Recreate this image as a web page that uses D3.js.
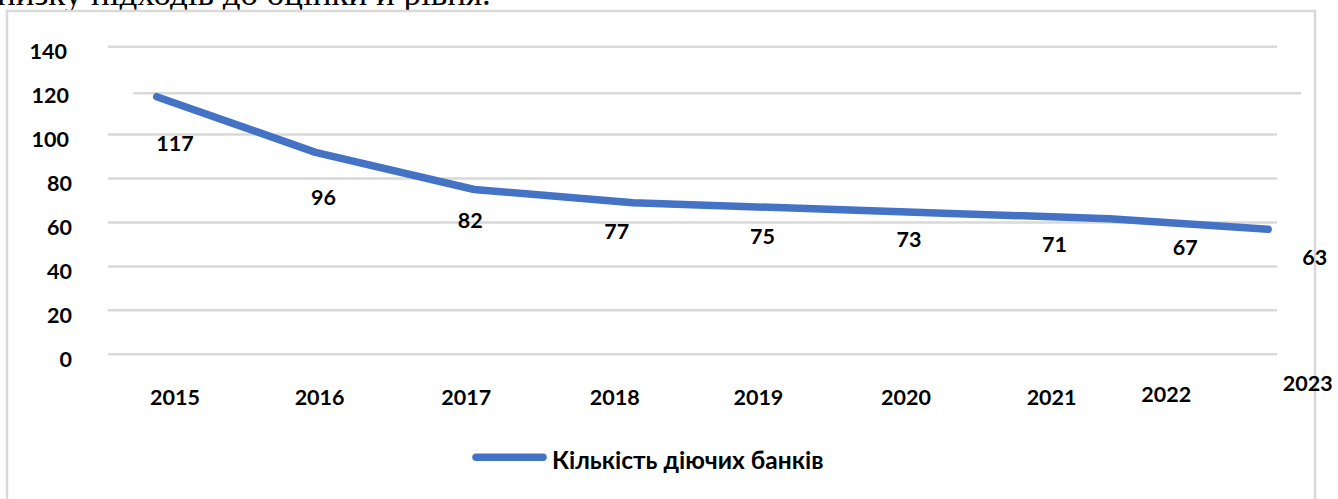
<!DOCTYPE html>
<html>
<head>
<meta charset="utf-8">
<script src="https://cdn.jsdelivr.net/npm/d3@7"></script>
<style>
  html, body { margin: 0; padding: 0; background: #fff; }
  svg { display: block; }
</style>
</head>
<body>
<svg id="chart" width="1338" height="499"></svg>
<script>
// ---- data ----
const years = ["2015", "2016", "2017", "2018", "2019", "2020", "2021", "2022", "2023"];
const banks = [117, 96, 82, 77, 75, 73, 71, 67, 63];
const yTicks = [0, 20, 40, 60, 80, 100, 120, 140];
const lineYears = years.slice(0, 8);
const lineValues = banks.slice(0, 8);
const seriesName = "Кількість діючих банків";
const headText = "низку підходів до оцінки й рівня.";

// ---- styles / layout tweaks (not data) ----
const axisLabelDx = [0, -2, -2, 0, -3, -2, -3, -35, -40];
const axisLabelDy = [0, 0, 0, 0, 0, 0, 0, -3, -14];
const dataLabelDx = [0, 2, 2, 2, 1, 1, 0, -16, -33];
const dataLabelDy = [0, 8, 0, 0, 1, 0, 0, -6, -4];
const tickDx = {140: -5, 120: -3, 100: -3};
const gridSpecial = {120: {x1: 133, x2: 1301, dy: 2.7}};
const blue = "#4472C4";
const grid = "#d9d9d9";
const numFont = "Lato, 'Open Sans', sans-serif";

const svg = d3.select("#chart");

// heading text (partially cut off at top, as in the source)
svg.append("text")
  .attr("x", -3).attr("y", 5)
  .attr("font-family", "'Liberation Serif', 'Times New Roman', serif")
  .attr("font-size", 35)
  .attr("fill", "#000")
  .text(headText);

// chart frame
svg.append("rect")
  .attr("x", 7).attr("y", 11)
  .attr("width", 1308).attr("height", 520)
  .attr("fill", "#fff")
  .attr("stroke", grid).attr("stroke-width", 2.5);

// scales
const yAxis = d3.scaleLinear().domain([0, 140]).range([354.3, 46.7]);
const xCat = d3.scalePoint().domain(years).range([175, 175 + 8 * 146.6]);
const lineX = d3.scalePoint().domain(lineYears).range([156.7, 1268.2]);
const lineY = d3.scaleLinear().domain([0, 140]).range([407, 35.7]);

// gridlines
svg.append("g").selectAll("line").data(yTicks).join("line")
  .attr("x1", d => gridSpecial[d] ? gridSpecial[d].x1 : 108)
  .attr("x2", d => gridSpecial[d] ? gridSpecial[d].x2 : 1277)
  .attr("y1", d => yAxis(d) + (gridSpecial[d] ? gridSpecial[d].dy : 0))
  .attr("y2", d => yAxis(d) + (gridSpecial[d] ? gridSpecial[d].dy : 0))
  .attr("stroke", grid).attr("stroke-width", 2.5);

// y tick labels
svg.append("g").selectAll("text").data(yTicks).join("text")
  .attr("x", d => 72 + (tickDx[d] || 0))
  .attr("y", d => yAxis(d) + 5)
  .attr("dy", "0.35em")
  .attr("text-anchor", "end")
  .attr("font-family", numFont).attr("font-weight", 700).attr("font-size", 21.5)
  .attr("fill", "#000")
  .text(d => d);

// line
svg.append("path")
  .datum(lineValues.map((v, i) => [lineYears[i], v]))
  .attr("d", d3.line().x(d => lineX(d[0])).y(d => lineY(d[1])))
  .attr("fill", "none").attr("stroke", blue).attr("stroke-width", 7.5)
  .attr("stroke-linecap", "round").attr("stroke-linejoin", "round");

// data labels
svg.append("g").selectAll("text").data(banks).join("text")
  .attr("x", (d, i) => xCat(years[i]) + dataLabelDx[i])
  .attr("y", (d, i) => yAxis(d) + 46 + dataLabelDy[i])
  .attr("dy", "0.35em")
  .attr("text-anchor", "middle")
  .attr("font-family", numFont).attr("font-weight", 700).attr("font-size", 21.5)
  .attr("fill", "#000")
  .text(d => d);

// x axis labels
svg.append("g").selectAll("text").data(years).join("text")
  .attr("x", (d, i) => xCat(d) + axisLabelDx[i])
  .attr("y", (d, i) => 397 + axisLabelDy[i])
  .attr("dy", "0.35em")
  .attr("text-anchor", "middle")
  .attr("font-family", numFont).attr("font-weight", 700).attr("font-size", 21.5)
  .attr("fill", "#000")
  .text(d => d);

// legend
const lg = svg.append("g");
lg.append("line")
  .attr("x1", 476).attr("x2", 543).attr("y1", 457.3).attr("y2", 457.3)
  .attr("stroke", blue).attr("stroke-width", 7.5).attr("stroke-linecap", "round");
lg.append("text")
  .attr("x", 552).attr("y", 460).attr("dy", "0.35em")
  .attr("font-family", numFont).attr("font-weight", 700).attr("font-size", 24.5)
  .attr("fill", "#000")
  .text(seriesName);
</script>
</body>
</html>
